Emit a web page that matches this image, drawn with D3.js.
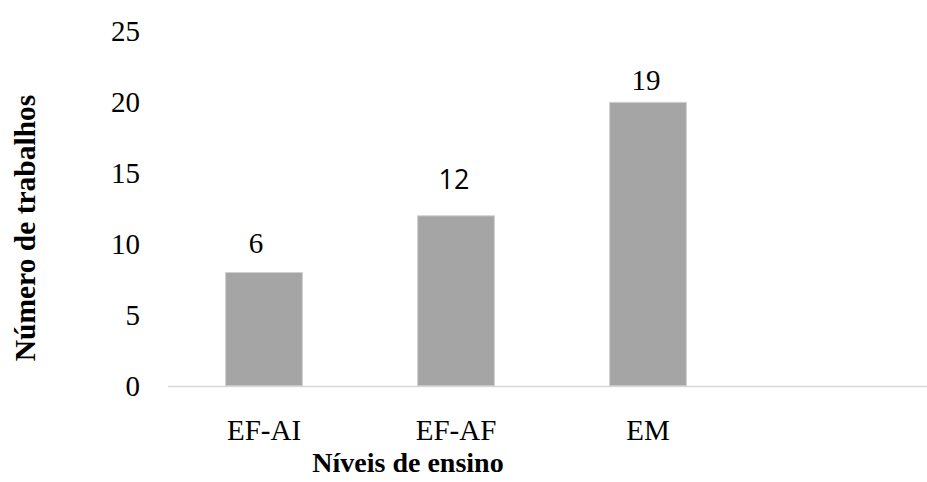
<!DOCTYPE html>
<html>
<head>
<meta charset="utf-8">
<script src="https://cdn.jsdelivr.net/npm/d3@7"></script>
<style>
  body { margin: 0; background: #fff; }
  svg { display: block; }
</style>
</head>
<body>
<svg id="chart"></svg>
<script>
// data
const categories = ['EF-AI', 'EF-AF', 'EM'];
const values = [8, 12, 20];           // bar heights as drawn
const labels = ['6', '12', '19'];     // printed labels (differ from heights in the original)
const yTicks = [0, 5, 10, 15, 20, 25];

// layout
const width = 927, height = 482;
const x0 = 168, x1 = 936, yBase = 386, yTop = 31.4;
const labelGap = [20, 27, 12];                 // px between bar top and label baseline
const labelShift = [-8, -2, -2];               // small horizontal nudges seen in the original
const labelFont = ['serif', 'sans', 'serif'];  // "12" is set in a sans face in the original

const serif = '"Liberation Serif", "Times New Roman", serif';

const svg = d3.select('#chart')
  .attr('width', width)
  .attr('height', height);

// an empty fourth slot keeps the bars where Excel put them
const x = d3.scaleBand()
  .domain([...categories, ''])
  .range([x0, x1])
  .paddingInner(0.6)
  .paddingOuter(0.3);

const y = d3.scaleLinear()
  .domain([0, 25])
  .range([yBase, yTop]);

// y axis (labels only)
const yAxis = svg.append('g')
  .attr('transform', `translate(${x0},0)`)
  .call(d3.axisLeft(y).tickValues(yTicks).tickSize(0).tickPadding(28))
  .attr('font-family', serif)
  .attr('font-size', 29);
yAxis.select('.domain').remove();
yAxis.selectAll('text').attr('fill', '#000');

// bars
svg.selectAll('rect.bar')
  .data(values)
  .enter()
  .append('rect')
  .attr('class', 'bar')
  .attr('x', (d, i) => x(categories[i]))
  .attr('y', d => y(d))
  .attr('width', x.bandwidth())
  .attr('height', d => y(0) - y(d))
  .attr('fill', '#a5a5a5')
  .attr('stroke', '#d0d0d0')
  .attr('stroke-width', 1);

// x axis
const xAxis = svg.append('g')
  .attr('transform', `translate(0,${yBase})`)
  .call(d3.axisBottom(x).tickValues(categories).tickSize(0).tickPadding(33))
  .attr('font-family', serif)
  .attr('font-size', 29);
xAxis.select('.domain').remove();
xAxis.selectAll('text').attr('fill', '#000');

svg.append('line')
  .attr('x1', x0)
  .attr('x2', width)
  .attr('y1', yBase + 0.5)
  .attr('y2', yBase + 0.5)
  .attr('stroke', '#d9d9d9')
  .attr('stroke-width', 1.5);

// data labels
svg.selectAll('text.lbl')
  .data(labels)
  .enter()
  .append('text')
  .attr('class', 'lbl')
  .attr('x', (d, i) => x(categories[i]) + x.bandwidth() / 2 + labelShift[i])
  .attr('y', (d, i) => y(values[i]) - labelGap[i])
  .attr('text-anchor', 'middle')
  .style('font-family', (d, i) => labelFont[i] === 'sans' ? '"Open Sans", sans-serif' : serif)
  .style('font-size', (d, i) => labelFont[i] === 'sans' ? '27px' : '29px')
  .attr('fill', '#000')
  .text(d => d);

// axis titles
svg.append('text')
  .attr('x', 408)
  .attr('y', 472)
  .attr('text-anchor', 'middle')
  .style('font-family', serif)
  .style('font-weight', 'bold')
  .style('font-size', '28px')
  .text('Níveis de ensino');

svg.append('text')
  .attr('transform', 'translate(35,228) rotate(-90)')
  .attr('text-anchor', 'middle')
  .style('font-family', serif)
  .style('font-weight', 'bold')
  .style('font-size', '29.5px')
  .text('Número de trabalhos');
</script>
</body>
</html>
